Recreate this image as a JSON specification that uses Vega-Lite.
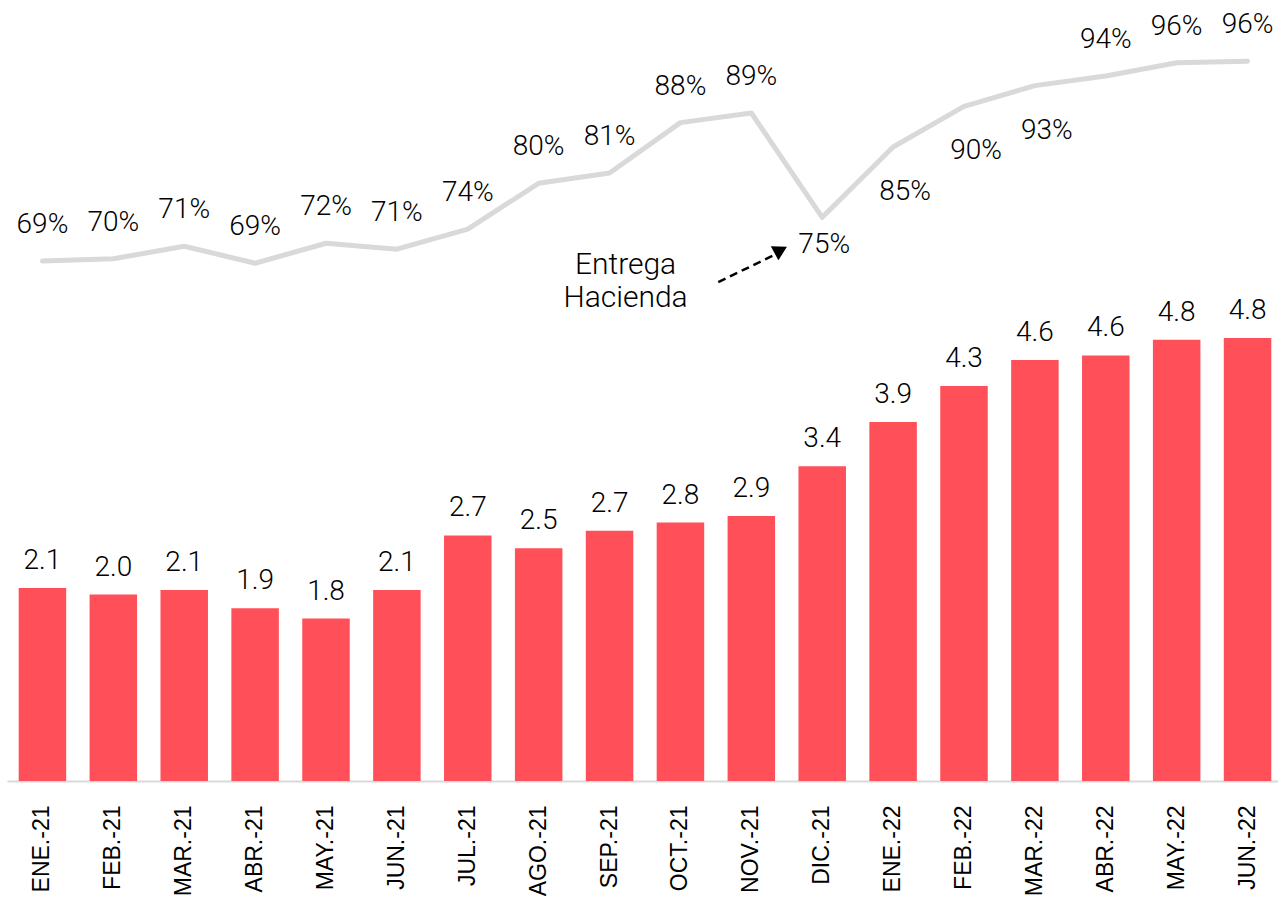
{
  "$schema": "https://vega.github.io/schema/vega-lite/v6.json",
  "autosize": "none",
  "padding": {"left": 7, "top": 0, "right": 0, "bottom": 117},
  "width": 1276,
  "height": 781,
  "background": "white",
  "config": {
    "view": {"stroke": null},
    "text": {"font": "Roboto", "fontSize": 28, "fontWeight": 300, "color": "#000000"}
  },
  "datasets": {
    "d": [
      {"mes": "ENE.-21", "b": 2.09, "p": 0.694},
      {"mes": "FEB.-21", "b": 2.02, "p": 0.697},
      {"mes": "MAR.-21", "b": 2.07, "p": 0.714},
      {"mes": "ABR.-21", "b": 1.87, "p": 0.691},
      {"mes": "MAY.-21", "b": 1.76, "p": 0.718},
      {"mes": "JUN.-21", "b": 2.07, "p": 0.710},
      {"mes": "JUL.-21", "b": 2.66, "p": 0.737},
      {"mes": "AGO.-21", "b": 2.52, "p": 0.799},
      {"mes": "SEP.-21", "b": 2.71, "p": 0.813},
      {"mes": "OCT.-21", "b": 2.80, "p": 0.881},
      {"mes": "NOV.-21", "b": 2.87, "p": 0.894},
      {"mes": "DIC.-21", "b": 3.41, "p": 0.753},
      {"mes": "ENE.-22", "b": 3.89, "p": 0.848},
      {"mes": "FEB.-22", "b": 4.28, "p": 0.903},
      {"mes": "MAR.-22", "b": 4.56, "p": 0.931},
      {"mes": "ABR.-22", "b": 4.61, "p": 0.944},
      {"mes": "MAY.-22", "b": 4.78, "p": 0.962},
      {"mes": "JUN.-22", "b": 4.80, "p": 0.964}
    ],
    "note": [
      {"mes": "SEP.-21", "y": 0.6886, "t": "Entrega"},
      {"mes": "SEP.-21", "y": 0.6440, "t": "Hacienda"}
    ],
    "arrow": [
      {"mes": "NOV.-21", "a": 0.6656, "b": 0.7035, "h": 0.7089}
    ]
  },
  "data": {"name": "d"},
  "encoding": {
    "x": {
      "field": "mes",
      "type": "ordinal",
      "sort": null,
      "scale": {
        "domain": ["ENE.-21","FEB.-21","MAR.-21","ABR.-21","MAY.-21","JUN.-21","JUL.-21","AGO.-21","SEP.-21","OCT.-21","NOV.-21","DIC.-21","ENE.-22","FEB.-22","MAR.-22","ABR.-22","MAY.-22","JUN.-22"],
        "paddingInner": 0.33,
        "paddingOuter": 0.165
      },
      "axis": {
        "title": null,
        "labelAngle": -90,
        "labelFont": "Liberation Sans",
        "labelFontSize": 23,
        "labelColor": "#000000",
        "labelPadding": 24,
        "ticks": false,
        "grid": false,
        "domainColor": "#d9d9d9",
        "domainWidth": 2
      }
    }
  },
  "layer": [
    {
      "encoding": {
        "y": {"field": "b", "type": "quantitative", "scale": {"domain": [0, 8.46], "nice": false}, "axis": null}
      },
      "layer": [
        {"mark": {"type": "bar", "color": "#FF505A"}},
        {
          "mark": {"type": "text", "baseline": "middle", "dy": -27},
          "encoding": {"text": {"field": "b", "type": "quantitative", "format": ".1f"}}
        }
      ]
    },
    {
      "layer": [
        {
          "mark": {"type": "line", "color": "#d9d9d9", "strokeWidth": 5, "strokeCap": "round", "strokeJoin": "round"},
          "encoding": {
            "y": {"field": "p", "type": "quantitative", "scale": {"domain": [-0.0087, 1.0467], "nice": false, "zero": false}, "axis": null}
          }
        },
        {
          "transform": [{"filter": {"not": {"field": "mes", "oneOf": ["DIC.-21", "ENE.-22", "FEB.-22", "MAR.-22"]}}}],
          "mark": {"type": "text", "baseline": "middle", "dy": -36},
          "encoding": {
            "y": {"field": "p", "type": "quantitative"},
            "text": {"field": "p", "type": "quantitative", "format": ".0%"}
          }
        },
        {
          "transform": [{"filter": {"field": "mes", "oneOf": ["DIC.-21"]}}],
          "mark": {"type": "text", "baseline": "middle", "dy": 28, "dx": 2},
          "encoding": {
            "y": {"field": "p", "type": "quantitative"},
            "text": {"field": "p", "type": "quantitative", "format": ".0%"}
          }
        },
        {
          "transform": [{"filter": {"field": "mes", "oneOf": ["ENE.-22", "FEB.-22", "MAR.-22"]}}],
          "mark": {"type": "text", "baseline": "middle", "dy": 45, "dx": 12},
          "encoding": {
            "y": {"field": "p", "type": "quantitative"},
            "text": {"field": "p", "type": "quantitative", "format": ".0%"}
          }
        },
        {
          "data": {"name": "note"},
          "mark": {"type": "text", "baseline": "middle", "dx": 16, "fontSize": 30},
          "encoding": {
            "y": {"field": "y", "type": "quantitative"},
            "text": {"field": "t", "type": "nominal"}
          }
        },
        {
          "data": {"name": "arrow"},
          "mark": {"type": "rule", "color": "#000000", "strokeWidth": 2.5, "strokeDash": [8, 5]},
          "encoding": {
            "x": {"field": "mes", "type": "ordinal", "bandPosition": -0.196},
            "x2": {"field": "mes", "bandPosition": 1.03},
            "y": {"field": "a", "type": "quantitative"},
            "y2": {"field": "b"}
          }
        },
        {
          "data": {"name": "arrow"},
          "mark": {"type": "point", "shape": "triangle-up", "filled": true, "color": "#000000", "size": 260, "angle": 62, "opacity": 1},
          "encoding": {
            "x": {"field": "mes", "type": "ordinal", "bandPosition": 1.12},
            "y": {"field": "h", "type": "quantitative"}
          }
        }
      ]
    }
  ],
  "resolve": {"scale": {"y": "independent"}}
}
